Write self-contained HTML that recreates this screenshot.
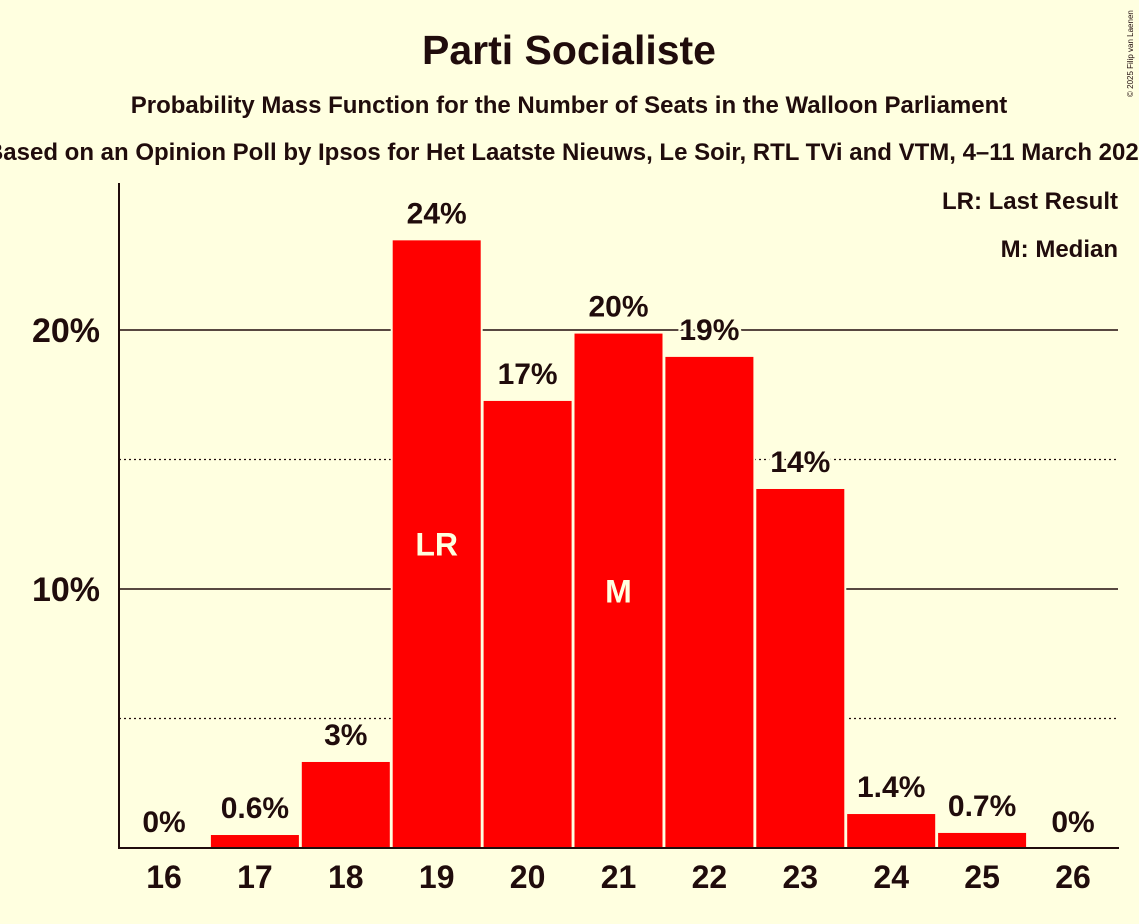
<!DOCTYPE html>
<html><head><meta charset="utf-8"><style>
body{margin:0;background:#ffffe0;}
svg{display:block;font-family:"Liberation Sans",sans-serif;font-weight:bold;fill:#200c0c;}
</style></head><body>
<svg width="1139" height="924" viewBox="0 0 1139 924">
<rect width="1139" height="924" fill="#ffffe0"/>
<text x="569" y="64" text-anchor="middle" font-size="41">Parti Socialiste</text>
<text x="569" y="113" text-anchor="middle" font-size="24">Probability Mass Function for the Number of Seats in the Walloon Parliament</text>
<text x="569" y="160" text-anchor="middle" font-size="24">Based on an Opinion Poll by Ipsos for Het Laatste Nieuws, Le Soir, RTL TVi and VTM, 4–11 March 2024</text>
<text x="1133" y="97" font-size="8" font-weight="normal" transform="rotate(-90 1133 97)" text-anchor="start">© 2025 Filip van Laenen</text>
<g id="grid"></g>
<g id="bars"></g>
<line x1="119" y1="183" x2="119" y2="849" stroke="#200c0c" stroke-width="2"/>
<line x1="118" y1="848" x2="1119" y2="848" stroke="#200c0c" stroke-width="2"/>
<text x="1118" y="209" text-anchor="end" font-size="24">LR: Last Result</text>
<text x="1118" y="257" text-anchor="end" font-size="24">M: Median</text>
</svg>
<script>
const seats=[16,17,18,19,20,21,22,23,24,25,26];
const probs=[0,0.54,3.36,23.5,17.3,19.9,19.0,13.9,1.35,0.62,0];
const labels=["0%","0.6%","3%","24%","17%","20%","19%","14%","1.4%","0.7%","0%"];
const yTicks=[10,20];
const yMinor=[5,15];
const lastResult=19, median=21;
const NS="http://www.w3.org/2000/svg";
const y=v=>848-v*25.9;
const x=i=>164+90.9*i;
function mk(t,a,p){const e=document.createElementNS(NS,t);for(const k in a)e.setAttribute(k,a[k]);p.appendChild(e);return e;}
const g=document.getElementById('grid'), b=document.getElementById('bars');
yMinor.forEach(v=>{
 const l=mk('line',{x1:119,x2:1118,y1:y(v),y2:y(v),stroke:'#200c0c','stroke-width':1.3,'stroke-dasharray':'2,3'},g);
 
 
});
yTicks.forEach(v=>{
 const l=mk('line',{x1:119,x2:1118,y1:y(v),y2:y(v),stroke:'#200c0c','stroke-width':1.5},g);
 
 
 const t=mk('text',{x:100,y:y(v)+12,'text-anchor':'end','font-size':34},g);
 t.textContent=v+'%';
 
 
});
seats.forEach((s,i)=>{
 const cx=x(i);
 if(probs[i]>0){
  const r=mk('rect',{x:cx-45,y:y(probs[i]),width:90,height:848-y(probs[i]),fill:'#ff0000',stroke:'#ffffe0','stroke-width':2},b);
  
  
 }
 const lt=mk('text',{x:cx,y:y(probs[i])-16,'text-anchor':'middle','font-size':30,stroke:'#ffffe0','stroke-width':6,'paint-order':'stroke'},b);
 lt.textContent=labels[i];
 
 
 const xt=mk('text',{x:cx,y:888,'text-anchor':'middle','font-size':32},b);
 xt.textContent=s;
 
 
 if(s===lastResult||s===median){
  const m=mk('text',{x:cx,y:(y(probs[i])+848)/2+12,'text-anchor':'middle','font-size':32,fill:'#ffffe0'},b);
  m.textContent=s===lastResult?'LR':'M';
  
  
 }
});
</script>
</body></html>
